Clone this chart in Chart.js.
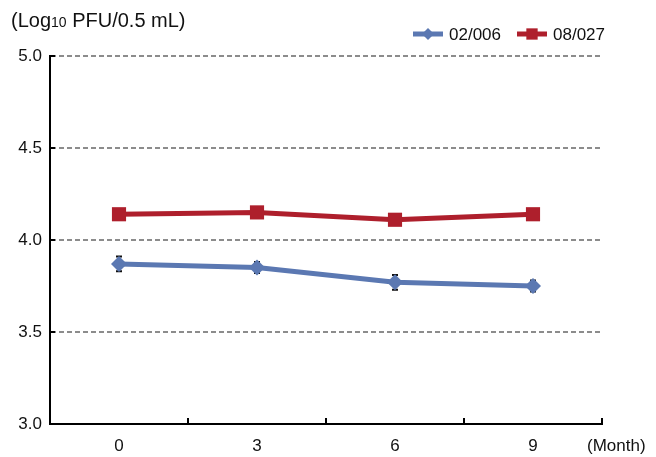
<!DOCTYPE html>
<html>
<head>
<meta charset="utf-8">
<script src="https://cdn.jsdelivr.net/npm/chart.js@4"></script>
<style>
  html, body { margin: 0; padding: 0; background: #fff; }
  #wrap { width: 656px; height: 457px; }
</style>
</head>
<body>
<div id="wrap"><canvas id="chart" width="656" height="457"></canvas></div>
<script>
// dados
const months = ['0', '3', '6', '9'];
const lot02006 = [3.87, 3.85, 3.77, 3.75];
const lot08027 = [4.14, 4.15, 4.11, 4.14];
const err02006 = [0.04, 0.03, 0.04, 0.03];
const err08027 = [0.02, 0.02, 0.02, 0.02];
const yTicks = [3.0, 3.5, 4.0, 4.5, 5.0];

const FONT = '"Liberation Sans", Arial, sans-serif';
const BLUE = '#5b78b2';
const RED = '#ae1f2c';

// barras de erro (desenhadas por trás dos marcadores)
const errorBars = {
    id: 'errorBars',
    beforeDatasetsDraw(chart) {
        const ctx = chart.ctx;
        const y = chart.scales.y;
        const errs = [err02006, err08027];
        ctx.save();
        ctx.strokeStyle = '#111';
        ctx.lineWidth = 2;
        chart.data.datasets.forEach((ds, i) => {
            const meta = chart.getDatasetMeta(i);
            meta.data.forEach((pt, j) => {
                const top = y.getPixelForValue(ds.data[j] + errs[i][j]);
                const bot = y.getPixelForValue(ds.data[j] - errs[i][j]);
                ctx.beginPath();
                ctx.moveTo(pt.x, top); ctx.lineTo(pt.x, bot);
                ctx.moveTo(pt.x - 3, top); ctx.lineTo(pt.x + 3, top);
                ctx.moveTo(pt.x - 3, bot); ctx.lineTo(pt.x + 3, bot);
                ctx.stroke();
            });
        });
        ctx.restore();
    }
};

// eixos, marcas, título e legenda
const decor = {
    id: 'decor',
    afterDraw(chart) {
        const ctx = chart.ctx;
        const a = chart.chartArea;
        const x = chart.scales.x;
        const y = chart.scales.y;
        ctx.save();
        ctx.strokeStyle = '#000';
        ctx.lineWidth = 2;
        // ticks do eixo y para dentro
        yTicks.forEach(v => {
            const py = Math.round(y.getPixelForValue(v));
            ctx.beginPath();
            ctx.moveTo(a.left, py); ctx.lineTo(a.left + 5, py);
            ctx.stroke();
        });
        // ticks do eixo x (nas divisões entre categorias)
        const step = x.getPixelForValue(1) - x.getPixelForValue(0);
        for (let i = 0; i < months.length; i++) {
            const px = Math.round(x.getPixelForValue(i) + step / 2);
            ctx.beginPath();
            ctx.moveTo(px, a.bottom); ctx.lineTo(px, a.bottom - 6);
            ctx.stroke();
        }
        ctx.fillStyle = '#111';
        ctx.textBaseline = 'alphabetic';
        ctx.textAlign = 'left';
        // título do eixo y
        let tx = 11;
        const ty = 27;
        ctx.font = '20px ' + FONT;
        ctx.fillText('(Log', tx, ty);
        tx += ctx.measureText('(Log').width;
        ctx.font = '14px ' + FONT;
        ctx.fillText('10', tx, ty);
        tx += ctx.measureText('10').width;
        ctx.font = '20px ' + FONT;
        ctx.fillText(' PFU/0.5 mL)', tx, ty);
        // rótulo do eixo x
        ctx.font = '17px ' + FONT;
        ctx.fillText('(Month)', 587, 451);
        // legenda
        const items = [
            { label: '02/006', color: BLUE, style: 'rectRot', x0: 413 },
            { label: '08/027', color: RED, style: 'rect', x0: 517 }
        ];
        const ly = 34;
        items.forEach(it => {
            ctx.strokeStyle = it.color;
            ctx.lineWidth = 5;
            ctx.beginPath();
            ctx.moveTo(it.x0, ly); ctx.lineTo(it.x0 + 30, ly);
            ctx.stroke();
            ctx.fillStyle = it.color;
            Chart.helpers.drawPoint(ctx, { pointStyle: it.style, radius: it.style === 'rect' ? 8 : 6, borderWidth: 0 }, it.x0 + 15, ly);
            ctx.fillStyle = '#111';
            ctx.font = '17px ' + FONT;
            ctx.fillText(it.label, it.x0 + 36, ly + 6);
        });
        ctx.restore();
    }
};

const ctx = document.getElementById('chart').getContext('2d');
const chart = new Chart(ctx, {
    type: 'line',
    data: {
        labels: months,
        datasets: [{
            label: '02/006',
            data: lot02006,
            borderColor: BLUE,
            backgroundColor: BLUE,
            borderWidth: 5,
            pointStyle: 'rectRot',
            pointRadius: 8,
            pointBorderWidth: 0,
            tension: 0
        }, {
            label: '08/027',
            data: lot08027,
            borderColor: RED,
            backgroundColor: RED,
            borderWidth: 5,
            pointStyle: 'rect',
            pointRadius: 10,
            pointBorderWidth: 0,
            tension: 0
        }]
    },
    options: {
        responsive: false,
        animation: false,
        devicePixelRatio: 1,
        layout: { padding: { top: 56, right: 54, left: 0, bottom: 0 } },
        plugins: {
            legend: { display: false },
            tooltip: { enabled: false }
        },
        scales: {
            x: {
                offset: true,
                grid: { display: false, drawTicks: false },
                border: { color: '#000', width: 2 },
                ticks: { color: '#111', font: { family: FONT, size: 17 }, padding: 12 },
                afterFit(scale) { scale.height = 33; }
            },
            y: {
                min: 3,
                max: 5,
                afterBuildTicks(scale) { scale.ticks = yTicks.map(v => ({ value: v })); },
                grid: {
                    drawTicks: false,
                    lineWidth: 2,
                    color: c => c.tick && c.tick.value === 3 ? 'rgba(0,0,0,0)' : '#8c8c8c'
                },
                border: { color: '#000', width: 2, dash: [5, 3] },
                ticks: {
                    color: '#111',
                    font: { family: FONT, size: 17 },
                    padding: 8,
                    callback: v => Number(v).toFixed(1)
                },
                afterFit(scale) { scale.width = 50; }
            }
        }
    },
    plugins: [errorBars, decor]
});
</script>
</body>
</html>
